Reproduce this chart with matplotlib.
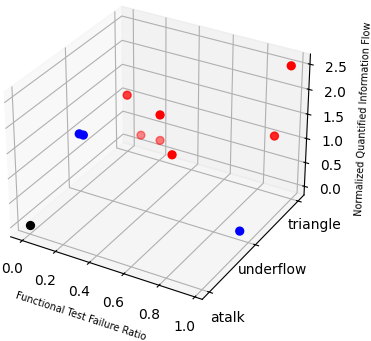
import matplotlib.pyplot as plt
from matplotlib.colors import to_rgba

programs = ['atalk', 'underflow', 'triangle']
program_colors = ['black', 'blue', 'red']

# failure ratio (x) and normalized flow (z) per program
atalk_ratio = [0.0]
atalk_flow = [0.0]

underflow_ratio = [0.0, 0.025, 0.95]
underflow_flow = [1.02, 1.02, 0.0]

triangle_ratio = [0.0, 0.205, 0.085, 0.205, 0.28, 0.89, 0.97]
triangle_flow = [1.025, 0.80, 0.25, 0.255, 0.02, 1.025, 2.515]

ratios = [atalk_ratio, underflow_ratio, triangle_ratio]
flows = [atalk_flow, underflow_flow, triangle_flow]

# how strongly each marker is drawn (the reference fades some of them)
marker_alpha = [
    [1.0],
    [1.0, 1.0, 1.0],
    [0.75, 1.0, 0.45, 0.5, 1.0, 0.85, 1.0],
]

fig = plt.figure(figsize=(3.71, 3.41), dpi=100)
ax = fig.add_subplot(projection='3d')
ax.set_position([-0.071, 0.059, 0.98, 1.0])

for i, name in enumerate(programs):
    cols = [to_rgba(program_colors[i], a) for a in marker_alpha[i]]
    ax.scatter(ratios[i], [i] * len(ratios[i]), flows[i], c=cols, s=32,
               depthshade=False)

ax.set_yticks(range(len(programs)))
ax.set_yticklabels(programs)
ax.set_xlabel('Functional Test Failure Ratio', fontsize=7)
ax.set_zlabel('Normalized Quantified Information Flow', fontsize=7)

plt.savefig('out.png')
